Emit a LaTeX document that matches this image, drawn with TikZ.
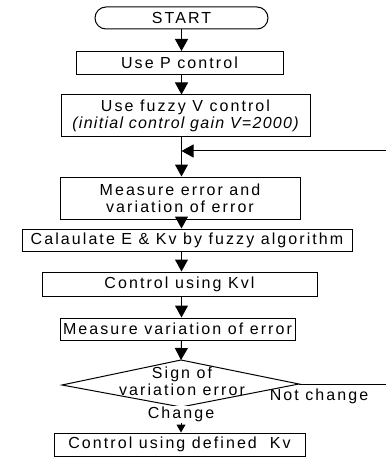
\documentclass[tikz,border=0pt]{standalone}
\usepackage{fontspec}
\setmainfont{Liberation Sans}[LetterSpace=13]
\usetikzlibrary{arrows.meta}
\tikzset{
  txt/.style={font=\fontsize{16}{17}\selectfont},
  box/.style={draw, line width=1pt, rectangle, inner sep=0pt, align=center, txt},
  term/.style={box, rounded corners=11pt},
  lbl/.style={inner sep=1pt, align=center, txt},
  conn/.style={line width=1pt},
  arr/.style={conn, -{Triangle[width=13pt,length=12pt]}},
  arrs/.style={conn, -{Triangle[width=9pt,length=8pt]}}
}
\begin{document}
\begin{tikzpicture}[x=1pt,y=-1pt]
\useasboundingbox (0,0) rectangle (386,465);
\node[term, minimum width=173pt, minimum height=22pt] (start) at (181.5,18) {START};
\node[box, minimum width=207pt, minimum height=23pt] (p) at (179.5,63) {Use P control};
\node[box, minimum width=249pt, minimum height=42pt] (fuzzy) at (185.5,116) {Use fuzzy V control\\{\addfontfeature{LetterSpace=8}\itshape (initial control gain V=2000)}};
\coordinate (fbR) at (386,151);
\node[box, minimum width=240pt, minimum height=42pt] (meas) at (180,198) {Measure error and\\ variation of error};
\node[box, minimum width=330pt, minimum height=22pt] (calc) at (187,240) {Calaulate E \& Kv by fuzzy algorithm};
\node[box, minimum width=275pt, minimum height=24pt] (kvl) at (179.5,284) {Control using Kvl};
\node[box, minimum width=235pt, minimum height=22pt] (mvar) at (177.5,329) {Measure variation of error};
\coordinate (diaN) at (181,360);
\coordinate (diaE) at (299,384);
\coordinate (diaS) at (181,407);
\coordinate (diaW) at (62,385);
\draw[conn] (diaN) -- (diaE) -- (diaS) -- (diaW) -- cycle;
\node[lbl] (dia) at (182,381) {Sign of\\variation error};
\node[lbl] (nc) at (319,396) {Not change};
\node[box, minimum width=251pt, minimum height=23pt] (final) at (179.5,444.5) {Control using defined\ \ Kv};

\draw[arr] (start.south) -- (start.south |- p.north);
\draw[arr] (p.south -| start) -- (fuzzy.north -| start);
\draw[arr] (fuzzy.south -| start) -- (meas.north -| start);
\draw[arr] (fbR) -- (fbR -| start);
\draw[arr] (meas.south -| start) -- (calc.north -| start);
\draw[arr] (calc.south -| start) -- (kvl.north -| start);
\draw[arr] (kvl.south -| start) -- (mvar.north -| start);
\draw[arr] (mvar.south -| start) -- (diaN);
\draw[conn] (diaE) -- (diaE -| fbR);
\draw[arrs] (diaS) -- node[lbl, fill=white, pos=0.3] (chg) {Change} (diaS |- final.north);
\end{tikzpicture}
\end{document}
